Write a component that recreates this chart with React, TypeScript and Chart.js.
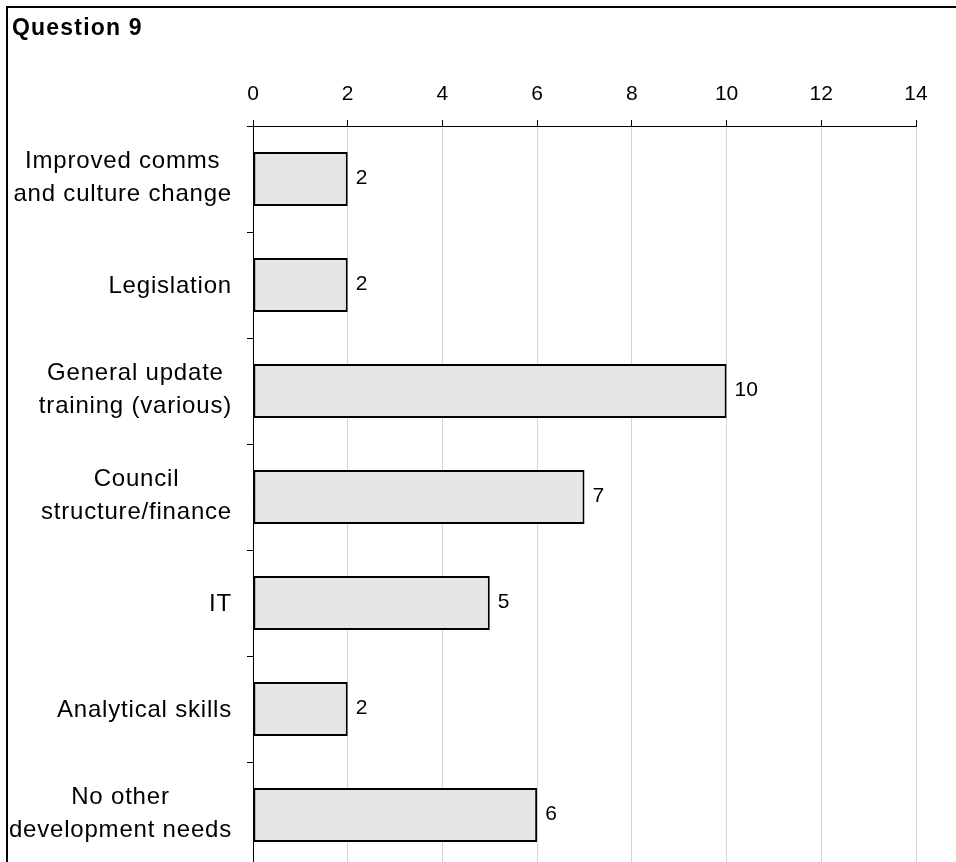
import React, { useEffect, useRef } from "react";
import { Chart, registerables } from "chart.js";

Chart.register(...registerables);

// Survey responses for Question 9 (one bar per development need)
const categories: string[][] = [
  ["Improved comms", "and culture change"],
  ["Legislation"],
  ["General update", "training (various)"],
  ["Council", "structure/finance"],
  ["IT"],
  ["Analytical skills"],
  ["No other", "development needs"],
];
const responses: number[] = [2, 2, 10, 7, 5, 2, 6];
const axisMin = 0;
const axisMax = 14;
const axisStep = 2;
const chartTitle = "Question 9";

const FONT = "'Liberation Sans', Arial, Helvetica, sans-serif";

// Draws the frame, the title, the category labels (each block right-aligned,
// its lines centred) and the value labels beside the bars.
const textPlugin = {
  id: "q9Text",
  afterDraw(chart: any) {
    const ctx = chart.ctx as CanvasRenderingContext2D & { letterSpacing: string };
    const yScale = chart.scales.y;
    ctx.save();

    ctx.strokeStyle = "#000";
    ctx.lineWidth = 2;
    ctx.strokeRect(7, 7, chart.width + 40, chart.height + 40);

    ctx.fillStyle = "#000";
    ctx.font = `bold 23px ${FONT}`;
    ctx.letterSpacing = "1.2px";
    ctx.textAlign = "left";
    ctx.textBaseline = "alphabetic";
    ctx.fillText(chartTitle, 12, 35);

    ctx.font = `24px ${FONT}`;
    ctx.letterSpacing = "0.8px";
    ctx.textAlign = "center";
    const right = chart.chartArea.left - 21;
    const lineGap = 33;
    categories.forEach((lines, i) => {
      const cy = yScale.getPixelForTick(i);
      const w = Math.max(...lines.map((l) => ctx.measureText(l).width));
      const cx = right - w / 2;
      const shift = lines.length > 1 ? 5.5 : 8.3;
      lines.forEach((line, j) => {
        const off = (j - (lines.length - 1) / 2) * lineGap;
        ctx.fillText(line, cx, cy + off + shift);
      });
    });

    ctx.font = `21px ${FONT}`;
    ctx.letterSpacing = "0px";
    ctx.textAlign = "left";
    ctx.textBaseline = "middle";
    const meta = chart.getDatasetMeta(0);
    meta.data.forEach((bar: any, i: number) => {
      ctx.fillText(String(responses[i]), bar.x + 8, bar.y - 1);
    });

    ctx.restore();
  },
};

export default function App() {
  const canvasRef = useRef<HTMLCanvasElement>(null);

  useEffect(() => {
    const canvas = canvasRef.current;
    if (!canvas) return;
    const chart = new Chart(canvas, {
      type: "bar",
      data: {
        labels: categories.map((c) => c.join(" ")),
        datasets: [
          {
            data: responses,
            backgroundColor: "#e6e6e6",
            borderColor: "#000",
            borderWidth: 2,
            borderSkipped: false,
            barPercentage: 0.51,
            categoryPercentage: 1,
          },
        ],
      },
      options: {
        indexAxis: "y",
        responsive: false,
        animation: false,
        devicePixelRatio: 1,
        layout: { padding: { left: 0, right: 40, top: 0, bottom: 12 } },
        plugins: {
          legend: { display: false },
          tooltip: { enabled: false },
          title: { display: false },
        },
        scales: {
          x: {
            position: "top",
            min: axisMin,
            max: axisMax,
            ticks: {
              stepSize: axisStep,
              color: "#000",
              font: { family: FONT, size: 21 },
              padding: 13,
              maxRotation: 0,
            },
            grid: {
              color: "#d4d4d4",
              tickColor: "#000",
              tickLength: 6,
              lineWidth: 1,
            },
            border: { color: "#000", width: 1 },
            afterFit: (s: any) => {
              s.height = 126;
            },
          },
          y: {
            ticks: { display: false },
            grid: {
              offset: true,
              drawOnChartArea: false,
              tickLength: 6,
              tickColor: "#000",
              color: "#000",
            },
            border: { color: "#000", width: 1 },
            afterFit: (s: any) => {
              s.width = 253;
            },
          },
        },
      } as any,
      plugins: [textPlugin],
    });
    return () => chart.destroy();
  }, []);

  return (
    <div
      style={{
        position: "fixed",
        left: 0,
        top: 0,
        width: 956,
        height: 862,
        overflow: "hidden",
        background: "#fff",
      }}
    >
      <canvas ref={canvasRef} width={956} height={880} style={{ display: "block" }} />
    </div>
  );
}
